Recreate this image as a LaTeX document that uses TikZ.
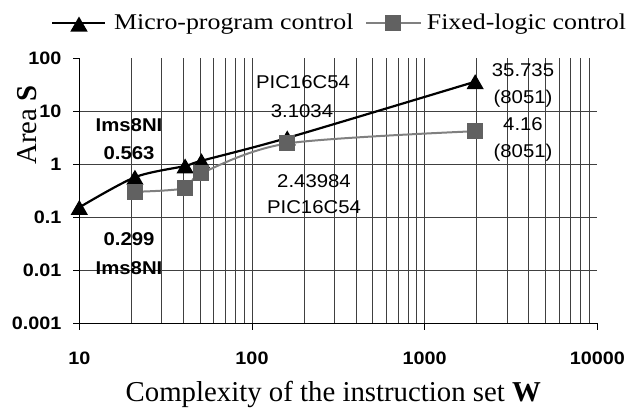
\documentclass[tikz,border=0pt]{standalone}
\usepackage{fontspec}
\setmainfont{Liberation Serif}
\newfontfamily\legfont{Liberation Serif}[FakeStretch=1.15]
\newfontfamily\arialx{Liberation Sans}[FakeStretch=1.1]
\usetikzlibrary{shapes.geometric}
\tikzstyle{gridline} = [black!75, line width=0.8pt]
\tikzstyle{axisline} = [black, line width=0.9pt]
\tikzstyle{microline} = [black, line width=2.2pt]
\tikzstyle{fixedline} = [black!50, line width=2pt]
\tikzstyle{trimark} = [regular polygon, regular polygon sides=3, minimum size=20pt, inner sep=0pt, fill=black, yshift=-2.5pt]
\tikzstyle{sqmark} = [rectangle, minimum size=16pt, inner sep=0pt, fill=black!62]
\tikzstyle{legtext} = [anchor=base west, inner sep=0pt, font=\legfont\fontsize{22.5}{27}\selectfont]
\tikzstyle{titletext} = [inner sep=0pt, font=\fontsize{28.8}{34}\selectfont]
\tikzstyle{ticklab} = [inner sep=0pt, font=\arialx\bfseries\fontsize{18}{22}\selectfont]
\tikzstyle{lab} = [inner sep=0pt, font=\arialx\fontsize{18.5}{22}\selectfont]
\tikzstyle{boldlab} = [inner sep=0pt, font=\arialx\bfseries\fontsize{18.5}{22}\selectfont]
\begin{document}
\begin{tikzpicture}[x=1pt,y=-1pt]
    \useasboundingbox (0,0) rectangle (631,410);

    % legend
    \coordinate (la) at (52,23.3);
    \coordinate (lb) at (105,23.3);
    \draw[microline] (la) -- (lb);
    \node[trimark] (lt) at (79,24) {};
    \node[legtext] (lm) at (114,29.3) {Micro-program control};
    \coordinate (lc) at (366,23.3);
    \coordinate (ld) at (420.7,23.3);
    \draw[fixedline] (lc) -- (ld);
    \node[sqmark] (ls) at (393,23.3) {};
    \node[legtext] (lf) at (426.7,29.3) {Fixed-logic control};

    % axis titles
    \node[titletext, anchor=base] (xt) at (333.3,401.7) {Complexity of the instruction set \textbf{W}};
    \node[titletext, rotate=90] (yt) at (27.3,125) {Area \textbf{S}};

    % log-log frame, one unit = one decade
    \begin{scope}[shift={(79.3,164)}, x=172.7pt, y=53pt]
        \foreach \d in {0,1,2}
            \foreach \m in {2,...,9}
                \draw[gridline] ({\d+log10(\m)},-3) -- ({\d+log10(\m)},2);
        \foreach \d in {1,2}
            \draw[gridline] (\d,-3) -- (\d,2);
        \foreach \e in {-2,...,1}
            \draw[gridline] (0,\e) -- (3,\e);

        \draw[axisline] (0,2) -- (0,-3) -- (3,-3);
        \foreach \e in {-3,...,2}
            \draw[axisline] (0,\e) -- ++(-6.5pt,0);
        \foreach \d in {0,...,3}
            \draw[axisline] (\d,-3) -- ++(0,-7pt);

        \foreach \e/\t in {-3/0.001,-2/0.01,-1/0.1,0/1,1/10,2/100}
            \node[ticklab, anchor=east] (yl\e) at ([xshift=-17.6pt]0,\e) {\t};
        \foreach \d/\t in {0/10,1/100,2/1000,3/10000}
            \node[ticklab] (xl\d) at ([yshift=-35.7pt]\d,-3) {\t};

        \coordinate (m1) at ({log10(10)-1},{log10(0.15)});
        \coordinate (m2) at ({log10(21)-1},{log10(0.563)});
        \coordinate (m3) at ({log10(41)-1},{log10(0.92)});
        \coordinate (m4) at ({log10(51)-1},{log10(1.15)});
        \coordinate (m5) at ({log10(160)-1},{log10(3.1034)});
        \coordinate (m6) at ({log10(1960)-1},{log10(35.735)});

        \coordinate (f1) at ({log10(21)-1},{log10(0.299)});
        \coordinate (f2) at ({log10(41)-1},{log10(0.35)});
        \coordinate (f3) at ({log10(51)-1},{log10(0.67)});
        \coordinate (f4) at ({log10(160)-1},{log10(2.43984)});
        \coordinate (f5) at ({log10(1960)-1},{log10(4.16)});
    \end{scope}

    \draw[microline] plot[smooth] coordinates {(m1) (m2) (m3) (m4) (m5) (m6)};
    \foreach \p in {1,...,6}
        \node[trimark] (tm\p) at (m\p) {};
    \draw[fixedline] plot[smooth] coordinates {(f1) (f2) (f3) (f4) (f5)};
    \foreach \p in {1,...,5}
        \node[sqmark] (sf\p) at (f\p) {};

    % point labels
    \node[boldlab] (n1) at (129,125) {Ims8NI};
    \node[boldlab] (n2) at (129,153) {0.563};
    \node[boldlab] (n3) at (129,239) {0.299};
    \node[boldlab] (n4) at (129,268) {Ims8NI};
    \node[lab] (n5) at (303,82) {PIC16C54};
    \node[lab] (n6) at (302,111) {3.1034};
    \node[lab] (n7) at (314,181) {2.43984};
    \node[lab] (n8) at (314,207) {PIC16C54};
    \node[lab] (n9) at (523,70.5) {35.735};
    \node[lab] (n10) at (523,99) {(8051)};
    \node[lab] (n11) at (523,124.5) {4.16};
    \node[lab] (n12) at (523,153) {(8051)};
\end{tikzpicture}
\end{document}
